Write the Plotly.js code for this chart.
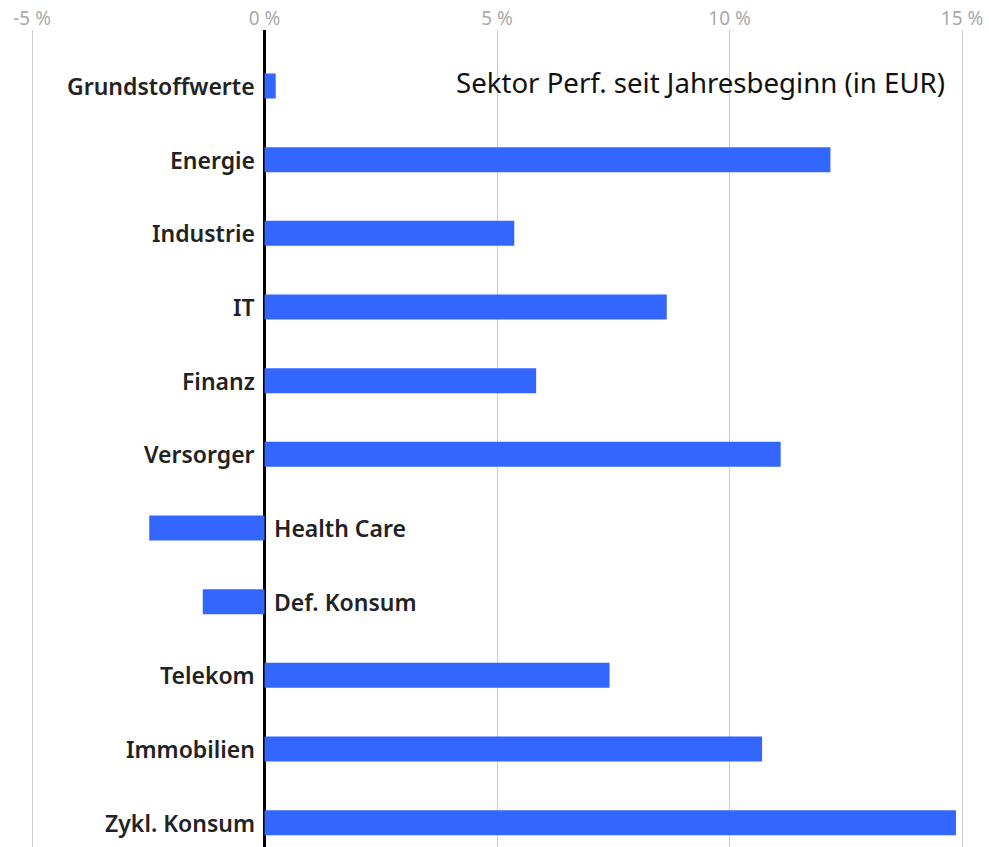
<!DOCTYPE html>
<html>
<head>
<meta charset="utf-8">
<script src="https://cdn.plot.ly/plotly-3.0.1.min.js"></script>
<style>
  html, body { margin: 0; padding: 0; background: #fff; }
  #chart { width: 989px; height: 847px; }
</style>
</head>
<body>
<div id="chart"></div>
<script>
// Sector performance YTD (EUR), top to bottom
const sectors = ['Grundstoffwerte', 'Energie', 'Industrie', 'IT', 'Finanz', 'Versorger',
                 'Health Care', 'Def. Konsum', 'Telekom', 'Immobilien', 'Zykl. Konsum'];
const perf = [0.24, 12.17, 5.37, 8.65, 5.84, 11.1, -2.48, -1.33, 7.42, 10.7, 14.87];

const tickVals = [-5, 0, 5, 10, 15];
const tickText = ['-5 %', '0 %', '5 %', '10 %', '15 %'];

const BLUE = '#3366FF';

// category labels sit next to the zero line, on the side away from the bar
const labels = sectors.map((s, i) => ({
  x: 0, y: s, xref: 'x', yref: 'y',
  text: s,
  showarrow: false,
  xanchor: perf[i] < 0 ? 'left' : 'right',
  xshift: perf[i] < 0 ? 7 : -8,
  font: { size: 23, color: '#222222', weight: 600 }
}));

labels.push({
  x: 1, y: 1, xref: 'paper', yref: 'paper',
  xanchor: 'right', yanchor: 'top',
  xshift: -42, yshift: -31,
  text: 'Sektor Perf. seit Jahresbeginn (in EUR)',
  showarrow: false,
  font: { size: 27.6, color: '#111111' }
});

Plotly.newPlot('chart', [{
  type: 'bar',
  orientation: 'h',
  x: perf,
  y: sectors,
  width: 0.34,
  marker: { color: BLUE },
  hoverinfo: 'x+y'
}], {
  width: 989, height: 847,
  paper_bgcolor: '#ffffff', plot_bgcolor: '#ffffff',
  margin: { l: 0, r: 0, t: 30, b: 0 },
  font: { family: 'Noto Sans, sans-serif', color: '#222' },
  showlegend: false,
  xaxis: {
    side: 'top',
    range: [-5.69, 15.58],
    tickvals: tickVals, ticktext: tickText,
    tickfont: { size: 19, color: '#aaaaaa' },
    showgrid: true, gridcolor: '#cccccc', gridwidth: 1,
    zeroline: true, zerolinecolor: '#000000', zerolinewidth: 2.5,
    showline: false, ticks: '', fixedrange: true
  },
  yaxis: {
    type: 'category',
    categoryorder: 'array', categoryarray: sectors,
    range: [10.33, -0.76],
    showticklabels: false, showgrid: false, zeroline: false,
    ticks: '', fixedrange: true
  },
  annotations: labels
}, { displayModeBar: false, staticPlot: true });
</script>
</body>
</html>
